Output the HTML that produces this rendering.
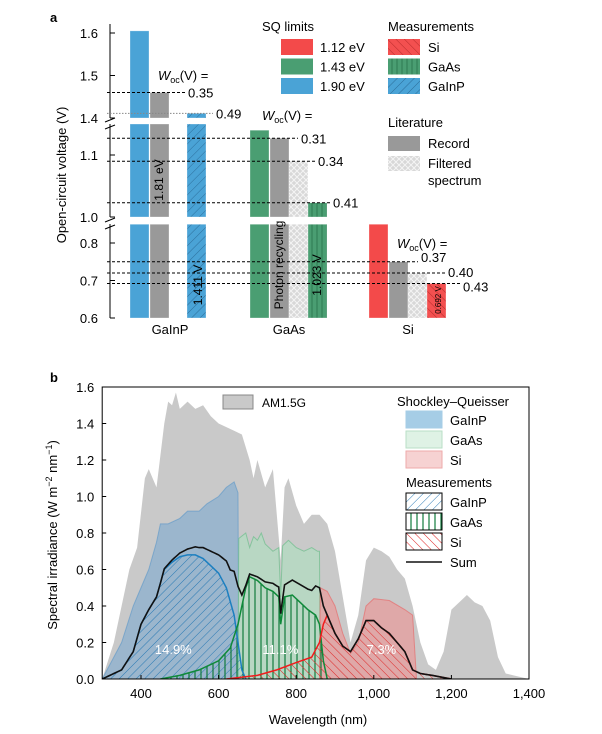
<!DOCTYPE html>
<html><head><meta charset="utf-8"><style>
body{margin:0;background:#fff;width:602px;height:734px;overflow:hidden}
svg{font-family:"Liberation Sans",Arial,sans-serif;display:block}
</style></head><body>
<svg id="fig" width="602" height="734" viewBox="0 0 602 734" xmlns="http://www.w3.org/2000/svg">
<defs>
<pattern id="hBlue" patternUnits="userSpaceOnUse" width="6" height="6" patternTransform="rotate(45)"><rect width="6" height="6" fill="#4aa3d6"/><line x1="0" y1="0" x2="0" y2="6" stroke="#2c6f9c" stroke-width="1"/></pattern>
<pattern id="hGreen" patternUnits="userSpaceOnUse" width="5" height="5"><rect width="5" height="5" fill="#4a9e72"/><line x1="2" y1="0" x2="2" y2="5" stroke="#2f7a52" stroke-width="1"/></pattern>
<pattern id="hRed" patternUnits="userSpaceOnUse" width="6" height="6" patternTransform="rotate(-45)"><rect width="6" height="6" fill="#f35050"/><line x1="0" y1="0" x2="0" y2="6" stroke="#b52a2a" stroke-width="1"/></pattern>
<pattern id="hCross" patternUnits="userSpaceOnUse" width="6" height="6"><rect width="6" height="6" fill="#d8d8d8"/><path d="M0 0L6 6M6 0L0 6" stroke="#f4f4f4" stroke-width="1"/></pattern>
<pattern id="mBlue" patternUnits="userSpaceOnUse" width="6" height="6" patternTransform="rotate(45)"><line x1="0" y1="0" x2="0" y2="6" stroke="#2a7ab5" stroke-width="1"/></pattern>
<pattern id="mGreen" patternUnits="userSpaceOnUse" width="6" height="6"><line x1="3" y1="0" x2="3" y2="6" stroke="#107a3c" stroke-width="1.2"/></pattern>
<pattern id="mRed" patternUnits="userSpaceOnUse" width="6" height="6" patternTransform="rotate(-45)"><line x1="0" y1="0" x2="0" y2="6" stroke="#e02525" stroke-width="1"/></pattern>
</defs>
<g id="pa"></g>
<g id="pb"></g>
</svg>
<script>
// ---------- Panel a data ----------
const aCats = ["GaInP","GaAs","Si"];
const aSQ = [1.605, 1.14, 0.85];
const aRecord = [1.46, 1.127, 0.75];
const aFiltered = [null, 1.09, 0.72];
const aMeasured = [1.411, 1.023, 0.692];
const aWoc = [["0.35",null,"0.49"],["0.31","0.34","0.41"],["0.37","0.40","0.43"]];
const aTicks = [0.6,0.7,0.8,1.0,1.1,1.4,1.5,1.6];

// ---------- Panel b data ----------
const amWl = [300,330,350,370,390,410,420,440,460,470,480,490,500,520,540,560,580,600,620,640,660,680,690,700,720,740,760,770,780,800,820,840,860,880,900,920,940,960,980,1000,1020,1040,1060,1080,1100,1120,1140,1160,1180,1200,1220,1240,1260,1280,1300,1320,1340,1360,1400];
const amVal = [0,0.2,0.4,0.6,0.72,1.1,1.15,1.05,1.4,1.52,1.5,1.57,1.48,1.52,1.48,1.5,1.44,1.4,1.38,1.36,1.34,1.2,1.1,1.2,1.05,1.15,0.65,1.05,1.1,0.95,0.85,0.9,0.9,0.85,0.7,0.45,0.2,0.35,0.65,0.72,0.7,0.67,0.6,0.55,0.4,0.2,0.08,0.05,0.15,0.38,0.42,0.46,0.42,0.4,0.32,0.12,0.03,0.02,0];
const sqGaInPWl = [300,330,350,380,400,420,440,450,470,500,520,550,570,600,620,640,650,652];
const sqGaInPVal = [0,0.12,0.2,0.4,0.5,0.6,0.75,0.85,0.85,0.88,0.92,0.92,0.96,1.0,1.05,1.08,1.02,0];
const sqGaAsWl = [650,652,670,680,690,700,710,720,740,755,760,765,780,800,820,840,855,860,862];
const sqGaAsVal = [0,0.77,0.8,0.72,0.78,0.76,0.8,0.74,0.7,0.72,0.45,0.73,0.76,0.72,0.7,0.72,0.7,0.7,0];
const sqSiWl = [860,862,880,900,920,940,960,980,1000,1040,1080,1100,1110];
const sqSiVal = [0,0.5,0.48,0.4,0.25,0.14,0.2,0.4,0.44,0.43,0.38,0.35,0];
const mGaInPWl = [300,350,380,400,420,440,460,480,500,520,540,560,580,600,620,640,650,660,670];
const mGaInPVal = [0,0.05,0.15,0.3,0.38,0.45,0.6,0.64,0.67,0.68,0.68,0.66,0.62,0.58,0.5,0.35,0.2,0.05,0];
const mGaAsWl = [450,500,550,600,630,650,670,680,700,720,740,755,760,770,790,810,830,850,860,870,880];
const mGaAsVal = [0,0.02,0.05,0.1,0.17,0.3,0.5,0.56,0.54,0.5,0.48,0.45,0.3,0.45,0.46,0.42,0.38,0.35,0.3,0.1,0];
const mSiWl = [620,700,750,800,840,860,870,880,900,920,940,960,980,1000,1020,1040,1060,1080,1100,1120,1150,1200];
const mSiVal = [0,0.02,0.05,0.09,0.12,0.2,0.3,0.35,0.25,0.18,0.15,0.22,0.32,0.32,0.28,0.25,0.2,0.15,0.05,0.03,0.02,0];
const bYTicks = [0,0.2,0.4,0.6,0.8,1.0,1.2,1.4,1.6];
const bXTicks = [400,600,800,1000,1200,1400];
const bXTickLabels = ["400","600","800","1,000","1,200","1,400"];
const pctLabels = ["14.9%","11.1%","7.3%"];
const pctWl = [540,790,1030];

const NS="http://www.w3.org/2000/svg";
function mk(tag,attrs,parent,text){const e=document.createElementNS(NS,tag);for(const k in attrs)e.setAttribute(k,attrs[k]);if(text!==undefined)e.textContent=text;parent.appendChild(e);return e;}

// ===== Panel a =====
const pa=document.getElementById('pa');
const segs=[{lo:0.6,hi:0.85,y0:318,k:375},{lo:1.0,hi:1.15,y0:217,k:620},{lo:1.4,hi:1.7,y0:118,k:425}];
function ya(v){const s=v>=1.4?segs[2]:v>=0.95?segs[1]:segs[0];return s.y0-(v-s.lo)*s.k;}
let t=mk('text',{x:50,y:22,'font-size':13,'font-weight':'bold'},pa,'a');

t=mk('text',{transform:'translate(66,175) rotate(-90)','text-anchor':'middle','font-size':13},pa,'Open-circuit voltage (V)');

// axis segments
[[318,224],[217,124],[118,24]].forEach(s=>{const l=mk('line',{x1:110,x2:110,y1:s[0],y2:s[1],stroke:'#000','stroke-width':1},pa);});
[[224],[124]].forEach(s=>{mk('path',{d:`M105 ${s[0]-2}L115 ${s[0]-6}M105 ${s[0]+5}L115 ${s[0]+1}`,stroke:'#000',fill:'none'},pa);});
aTicks.forEach(v=>{const y=ya(v);mk('line',{x1:110,x2:115,y1:y,y2:y,stroke:'#000'},pa);
 const tl=mk('text',{x:98,y:y+5,'text-anchor':'end','font-size':13},pa,v.toFixed(1));
 });
const groupX=[130,250,369];
const barW=19;
function drawBar(x,v,fill,name){
 segs.forEach(s=>{ if(v>s.lo){const top=Math.min(v,s.hi);const y1=s.y0-(top-s.lo)*s.k;
  const r=mk('rect',{x:x,y:y1,width:barW,height:s.y0-y1,fill:fill,stroke:'#fff','stroke-width':0.6,'stroke-opacity':0.5},pa);
  }});
}
const sqCol=['#4aa3d6','#4a9e72','#f34a4a'];
const mPat=['url(#hBlue)','url(#hGreen)','url(#hRed)'];
for(let i=0;i<3;i++){
 const gx=groupX[i];
 drawBar(gx,aSQ[i],sqCol[i],'bar-sq-'+aCats[i].toLowerCase());
 drawBar(gx+20,aRecord[i],'#999','bar-record-'+aCats[i].toLowerCase());
 let mx;
 if(aFiltered[i]!==null){drawBar(gx+39,aFiltered[i],'url(#hCross)','bar-filtered-'+aCats[i].toLowerCase());mx=gx+58;}
 else mx=gx+57;
 drawBar(mx,aMeasured[i],mPat[i],'bar-measured-'+aCats[i].toLowerCase());
 const cl=mk('text',{x:gx+(i==0?40:39),y:334,'text-anchor':'middle','font-size':13},pa,aCats[i]);
 
}
// dashed Woc lines
const lineEnds=[[185,null,213],[298,315,330],[418,445,460]];
for(let i=0;i<3;i++){
 const vals=[aRecord[i],aFiltered[i],aMeasured[i]];
 for(let j=0;j<3;j++){ if(vals[j]===null||aWoc[i][j]===null)continue;
  const y=ya(vals[j]);const dotted=(i==0&&j==2);
  const l=mk('line',{x1:107,x2:lineEnds[i][j],y1:y,y2:y,stroke:dotted?'#888':'#000','stroke-width':1,'stroke-dasharray':dotted?'1.5,1.5':'3,2'},pa);
  
  const tl=mk('text',{x:lineEnds[i][j]+3,y:y+(i==2?(j==2?8:j==1?4:0):5),'font-size':13},pa,aWoc[i][j]);
  }
}
[[158,80],[262,120],[397,248]].forEach(p=>{const tx=mk('text',{x:p[0],y:p[1],'font-size':13},pa);
 
 mk('tspan',{'font-style':'italic'},tx,'W');mk('tspan',{'font-size':9,dy:3},tx,'oc');mk('tspan',{dy:-3},tx,'(V) =');});
// rotated labels in bars
[['1.81 eV',163,180,12],['1.411 V',202,285,12],['Photon recycling',283,265,12],['1.023 V',321,275,12],['0.692 V',441,300,8]].forEach(a=>{
 const tl=mk('text',{transform:`translate(${a[1]},${a[2]}) rotate(-90)`,'text-anchor':'middle','font-size':a[3]},pa,a[0]);
 });
// legend a
const legA=mk('g',{},pa);
mk('text',{x:262,y:31,'font-size':13},legA,'SQ limits');
[['#f34a4a','1.12 eV'],['#4a9e72','1.43 eV'],['#4aa3d6','1.90 eV']].forEach((s,k)=>{const y=39+k*19.5;
 const r=mk('rect',{x:281,y:y,width:32,height:16,fill:s[0]},legA);
 mk('text',{x:320,y:y+13,'font-size':13},legA,s[1]);});
mk('text',{x:388,y:31,'font-size':13},legA,'Measurements');
[['url(#hRed)','Si'],['url(#hGreen)','GaAs'],['url(#hBlue)','GaInP']].forEach((s,k)=>{const y=39+k*19.5;
 const r=mk('rect',{x:388,y:y,width:32,height:16,fill:s[0]},legA);
 mk('text',{x:428,y:y+13,'font-size':13},legA,s[1]);});
mk('text',{x:388,y:127,'font-size':13},legA,'Literature');
let r=mk('rect',{x:388,y:136,width:32,height:15,fill:'#999'},legA);
mk('text',{x:428,y:148,'font-size':13},legA,'Record');
r=mk('rect',{x:388,y:156,width:32,height:15,fill:'url(#hCross)'},legA);
mk('text',{x:428,y:168,'font-size':13},legA,'Filtered');
mk('text',{x:428,y:185,'font-size':13},legA,'spectrum');

// ===== Panel b =====
const pb=document.getElementById('pb');
const X=l=>141+(l-400)*0.388;
const Y=v=>679-v*182.5;
const L=X(300),R=X(1400);
mk('clipPath',{id:'clipB'},pb);document.getElementById('clipB').appendChild((()=>{const c=document.createElementNS(NS,'rect');c.setAttribute('x',L);c.setAttribute('y',387);c.setAttribute('width',R-L);c.setAttribute('height',292);return c;})());
const plot=mk('g',{'clip-path':'url(#clipB)'},pb);
function area(wl,val,fill,stroke,name,sw){
 let d=`M${X(wl[0])} ${Y(0)}`;wl.forEach((w,i)=>d+=`L${X(w)} ${Y(val[i])}`);d+=`L${X(wl[wl.length-1])} ${Y(0)}Z`;
 const p=mk('path',{d:d,fill:fill,stroke:stroke||'none','stroke-width':sw||1},plot);
 return p;}
function line(wl,val,stroke,name,sw){let d='';wl.forEach((w,i)=>d+=(i?'L':'M')+X(w)+' '+Y(val[i]));
 const p=mk('path',{d:d,fill:'none',stroke:stroke,'stroke-width':sw},plot);}
area(amWl,amVal,'#c9c9c9',null,'am15g-area');
area(sqGaInPWl,sqGaInPVal,'rgba(100,160,210,0.45)','rgba(90,150,200,0.6)','sq-gainp-area');
area(sqGaAsWl,sqGaAsVal,'rgba(170,225,190,0.55)','rgba(110,190,140,0.7)','sq-gaas-area');
area(sqSiWl,sqSiVal,'rgba(240,140,140,0.55)','rgba(230,110,110,0.7)','sq-si-area');
area(mGaInPWl,mGaInPVal,'url(#mBlue)',null,'meas-gainp-area');
area(mGaAsWl,mGaAsVal,'url(#mGreen)',null,'meas-gaas-area');
area(mSiWl,mSiVal,'url(#mRed)',null,'meas-si-area');
line(mGaInPWl,mGaInPVal,'#1c7fc0','meas-gainp-line',1.5);
line(mGaAsWl,mGaAsVal,'#0f8a3a','meas-gaas-line',1.5);
line(mSiWl,mSiVal,'#f01c1c','meas-si-line',1.5);
function interp(wl,val,x){if(x<=wl[0]||x>=wl[wl.length-1])return 0;for(let i=1;i<wl.length;i++){if(x<=wl[i]){const f=(x-wl[i-1])/(wl[i]-wl[i-1]);return val[i-1]+f*(val[i]-val[i-1]);}}return 0;}
const sumWl=[],sumVal=[];
for(let w=300;w<=1200;w+=5){sumWl.push(w);sumVal.push(interp(mGaInPWl,mGaInPVal,w)+interp(mGaAsWl,mGaAsVal,w)+interp(mSiWl,mSiVal,w));}
line(sumWl,sumVal,'#111','sum-line',1.6);
pctLabels.forEach((p,i)=>{const tl=mk('text',{x:X(pctWl[i])-(i==0?22:i==1?12:4),y:654,'text-anchor':'middle','font-size':13,fill:'#fff'},pb,p);
 });
const fr=mk('rect',{x:L,y:387,width:R-L,height:292,fill:'none',stroke:'#000','stroke-width':1},pb);

bYTicks.forEach(v=>{mk('line',{x1:L,x2:L+4,y1:Y(v),y2:Y(v),stroke:'#000'},pb);
 const tl=mk('text',{x:L-8,y:Y(v)+5,'text-anchor':'end','font-size':13},pb,v.toFixed(1));});
bXTicks.forEach((v,i)=>{mk('line',{x1:X(v),x2:X(v),y1:679,y2:675,stroke:'#000'},pb);
 const tl=mk('text',{x:X(v),y:698,'text-anchor':'middle','font-size':13},pb,bXTickLabels[i]);});
t=mk('text',{x:50,y:382,'font-size':13,'font-weight':'bold'},pb,'b');
t=mk('text',{x:318,y:724,'text-anchor':'middle','font-size':13},pb,'Wavelength (nm)');
t=mk('text',{transform:'translate(57,535) rotate(-90)','text-anchor':'middle','font-size':13},pb);
mk('tspan',{},t,'Spectral irradiance (W m');mk('tspan',{'font-size':9,dy:-5},t,'−2');mk('tspan',{dy:5},t,' nm');mk('tspan',{'font-size':9,dy:-5},t,'−1');mk('tspan',{dy:5},t,')');
const legB=mk('g',{},pb);
r=mk('rect',{x:223,y:395,width:30,height:14,fill:'#c9c9c9',stroke:'#888'},legB);
mk('text',{x:262,y:407,'font-size':12},legB,'AM1.5G');
mk('text',{x:397,y:406,'font-size':13},legB,'Shockley–Queisser');
[['#a6cde6','#a6cde6','GaInP'],['#dff2e5','#b9dfc6','GaAs'],['#f6d2d2','#eeaaaa','Si']].forEach((s,k)=>{const y=411+k*20;
 const rr=mk('rect',{x:406,y:y,width:36,height:17,fill:s[0],stroke:s[1]},legB);
 mk('text',{x:450,y:y+14,'font-size':13},legB,s[2]);});
mk('text',{x:406,y:487,'font-size':13},legB,'Measurements');
[['url(#mBlue)','GaInP'],['url(#mGreen)','GaAs'],['url(#mRed)','Si']].forEach((s,k)=>{const y=493+k*20;
 const rr=mk('rect',{x:406,y:y,width:36,height:17,fill:s[0],stroke:'#000'},legB);
 mk('text',{x:450,y:y+14,'font-size':13},legB,s[1]);});
const sl=mk('line',{x1:406,x2:442,y1:562,y2:562,stroke:'#111','stroke-width':1.5},legB);
mk('text',{x:450,y:567,'font-size':13},legB,'Sum');
</script>
</body></html>
